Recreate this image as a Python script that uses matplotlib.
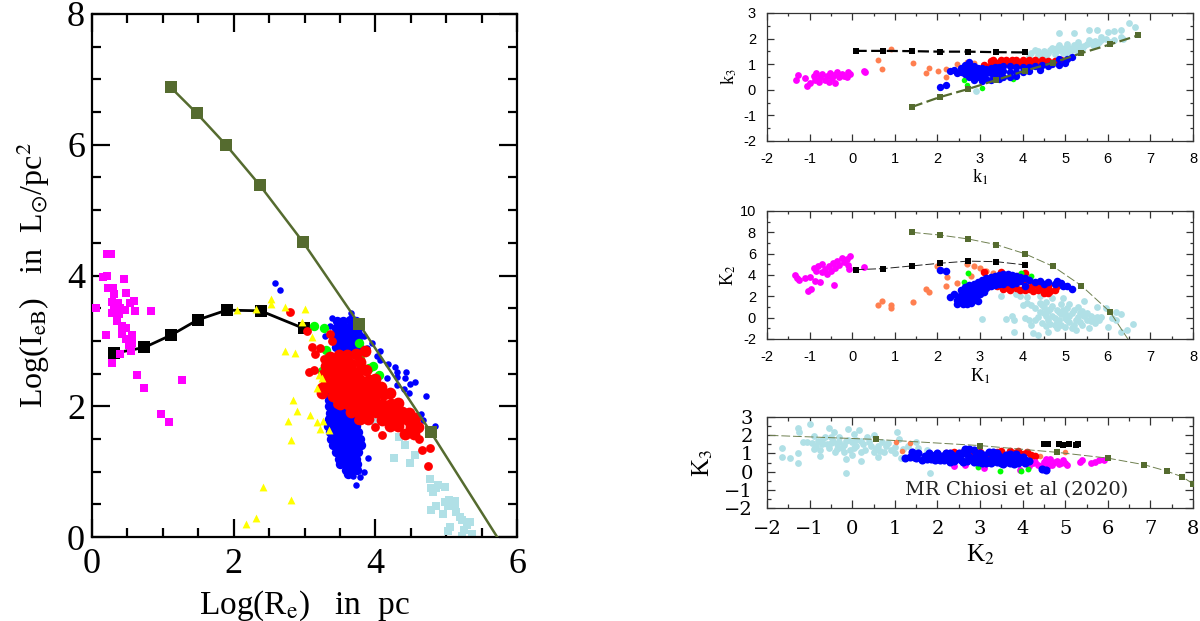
import matplotlib
matplotlib.use("Agg")
import matplotlib.pyplot as plt
from matplotlib.ticker import MultipleLocator, FuncFormatter

plt.rcParams['font.family'] = ['Liberation Serif', 'DejaVu Serif']
plt.rcParams['mathtext.fontset'] = 'stix'
plt.rcParams['axes.unicode_minus'] = False

# ---------- main panel: Log(Re), Log(IeB) ----------
main_black_x = [0.31, 0.74, 1.12, 1.49, 1.90, 2.38, 2.99]
main_black_y = [2.81, 2.90, 3.09, 3.32, 3.47, 3.46, 3.19]
main_olive_x = [1.11, 1.48, 1.89, 2.37, 2.98, 3.77, 4.78]
main_olive_y = [6.88, 6.48, 6.00, 5.38, 4.51, 3.26, 1.61]
main_olive_end_x = [4.78, 5.72]
main_olive_end_y = [1.61, 0.00]
main_yellow = [(2.05,3.47),(2.32,3.49),(2.52,3.64),(2.53,3.57),(2.73,3.52),(3.01,3.49),(2.96,3.29),(3.11,3.06),
 (2.72,2.85),(2.86,2.81),(3.2,2.48),(3.25,2.43),(3.17,2.28),(2.84,2.1),(2.89,1.92),(3.08,1.87),(2.76,1.77),
 (3.17,1.76),(3.26,1.77),(3.22,1.65),(3.34,1.64),(2.81,1.48),(2.41,0.76),(2.81,0.56),(2.31,0.29),(2.18,0.2)]
main_magenta = [(0.05,3.51),(0.21,4.33),(0.27,4.33),(0.16,3.98),(0.21,3.99),(0.45,3.95),(0.22,3.81),(0.3,3.81),
 (0.48,3.73),(0.31,3.72),(0.28,3.6),(0.36,3.58),(0.59,3.61),(0.54,3.58),(0.31,3.51),(0.39,3.51),(0.47,3.47),
 (0.6,3.46),(0.83,3.46),(0.28,3.42),(0.38,3.41),(0.35,3.31),(0.42,3.23),(0.48,3.2),(0.42,3.1),(0.57,3.09),
 (0.2,3.09),(0.48,3.03),(0.57,2.96),(0.52,2.93),(0.55,2.85),(0.39,2.8),(0.28,2.66),(0.63,2.48),(1.27,2.4),
 (0.74,2.28),(0.97,1.88),(1.09,1.76)]
main_lightblue = [(4.33,1.53),(4.42,1.41),(4.26,1.21),(4.56,1.25),(4.49,1.13),(4.77,0.88),(4.78,0.75),(4.85,0.75),
 (4.88,0.79),(4.99,0.77),(4.82,0.69),(4.78,0.42),(4.86,0.47),(4.99,0.53),(5.04,0.57),(5.12,0.55),(5.02,0.48),
 (5.12,0.47),(4.96,0.35),(5.14,0.38),(5.2,0.3),(5.22,0.26),(5.33,0.23),(5.29,0.18),(5.05,0.16),(5.03,0.09),
 (5.25,0.11),(5.36,0.04),(5.22,0.01),(4.0,1.78)]
main_blue_sparse = [(2.59,3.89),(2.66,3.78),(3.66,3.43),(3.39,3.35),(3.36,3.23),(3.29,3.08),
 (3.84,3.08),(3.95,2.97),(3.88,2.89),(4.06,2.85),(4.02,2.77),(4.07,2.7),(4.18,2.65),(4.28,2.6),(4.31,2.53),
 (4.43,2.53),(4.16,2.43),(4.31,2.44),(4.42,2.43),(4.56,2.37),(4.49,2.34),(4.31,2.33),(4.4,2.26),(4.48,2.2),
 (4.71,2.15),(4.64,1.88),(4.67,1.79),(4.84,1.7),(3.89,1.21),(3.84,0.99),(3.78,0.92),(3.68,0.94),(3.73,0.79)]
main_blue_core = [(3.46,3.3),(3.55,3.3),(3.64,3.32),(3.72,3.3),(3.44,3.2),(3.52,3.2),(3.6,3.2),(3.68,3.22),(3.76,3.2),
 (3.43,3.1),(3.51,3.1),(3.59,3.1),(3.67,3.1),(3.75,3.1),(3.43,3.0),(3.51,3.0),(3.59,3.0),(3.67,3.0),(3.75,3.0),
 (3.45,2.9),(3.53,2.9),(3.61,2.9),(3.69,2.9),(3.77,2.9),(3.5,2.8),(3.6,2.8),(3.7,2.8),
 (3.35,2.2),(3.43,2.2),(3.35,2.1),(3.43,2.1),(3.51,2.1),(3.6,2.1),
 (3.34,2.0),(3.42,2.0),(3.5,2.0),(3.58,2.0),(3.66,2.0),(3.36,1.9),(3.44,1.9),(3.52,1.9),(3.6,1.9),(3.68,1.9),
 (3.34,1.8),(3.42,1.8),(3.5,1.8),(3.58,1.8),(3.66,1.8),(3.74,1.8),(3.33,1.7),(3.41,1.7),(3.49,1.7),(3.57,1.7),
 (3.65,1.7),(3.73,1.7),(3.36,1.6),(3.44,1.6),(3.52,1.6),(3.6,1.6),(3.68,1.6),(3.76,1.6),(3.38,1.5),(3.46,1.5),
 (3.54,1.5),(3.62,1.5),(3.7,1.5),(3.78,1.5),(3.4,1.4),(3.48,1.4),(3.56,1.4),(3.64,1.4),(3.72,1.4),(3.8,1.4),
 (3.44,1.3),(3.52,1.3),(3.6,1.3),(3.68,1.3),(3.76,1.3),(3.48,1.2),(3.56,1.2),(3.64,1.2),(3.72,1.2),
 (3.5,1.12),(3.58,1.12),(3.66,1.12),(3.74,1.12),(3.58,1.02),(3.66,1.02),(3.74,1.02),(3.62,0.96)]
main_green = [(3.13,3.22),(3.27,3.19),(3.77,2.97),(3.31,2.86),(3.79,2.72),(3.91,2.58),(3.96,2.61),(4.05,2.48),
 (3.25,2.54),(3.65,1.94),(3.45,2.72),(3.46,2.1)]
main_red_sparse = [(2.8,3.44),(3.04,3.15),(3.36,3.1),(3.39,3.0),(3.11,2.91),(3.22,2.89),(3.15,2.8),(3.27,2.72),
 (3.06,2.52),(3.13,2.56),(4.09,1.56),(4.0,1.69),(4.61,1.5),(4.66,1.33),(4.77,1.36),(4.75,1.08),(3.46,2.03),(3.76,1.79)]
main_red_core = [(3.36,2.75),(3.48,2.78),(3.6,2.78),(3.72,2.8),(3.85,2.85),(3.3,2.62),(3.42,2.65),(3.54,2.65),(3.66,2.65),(3.78,2.68),
 (3.27,2.5),(3.39,2.52),(3.51,2.52),(3.63,2.52),(3.75,2.52),(3.87,2.55),(3.31,2.38),(3.43,2.4),(3.55,2.4),(3.67,2.4),
 (3.79,2.4),(3.91,2.4),(4.0,2.42),(3.25,2.28),(3.37,2.28),(3.49,2.28),(3.61,2.28),(3.73,2.28),(3.85,2.28),(3.97,2.28),
 (4.08,2.3),(3.25,2.2),(3.4,2.15),(3.52,2.15),(3.64,2.15),(3.76,2.15),(3.88,2.15),(4.0,2.15),(4.12,2.18),(4.2,2.2),
 (3.5,2.03),(3.62,2.03),(3.74,2.03),(3.86,2.03),(3.98,2.03),(4.1,2.03),(4.22,2.03),(4.32,2.05),(3.65,1.91),(3.77,1.91),
 (3.89,1.91),(4.01,1.91),(4.13,1.91),(4.25,1.91),(4.37,1.91),(4.47,1.9),(3.78,1.8),(3.9,1.8),(4.1,1.79),(4.22,1.79),
 (4.34,1.79),(4.46,1.79),(4.56,1.82),(4.2,1.7),(4.32,1.7),(4.5,1.68),(4.6,1.68),(4.42,1.58),(4.54,1.58)]

# ---------- shared model tracks of the three small panels ----------
k1_black = [0.08, 0.73, 1.40, 2.05, 2.72, 3.38, 4.05]
k2_black = [4.50, 4.60, 4.85, 5.10, 5.30, 5.25, 4.95]
k3_black = [1.52, 1.52, 1.51, 1.49, 1.49, 1.47, 1.46]
k1_olive = [1.40, 2.05, 2.72, 3.38, 4.05, 4.72, 5.38, 6.05, 6.72]
k2_olive = [8.00, 7.75, 7.38, 6.85, 6.00, 4.80, 3.00, 0.55, -3.50]
k3_olive = [-0.67, -0.29, 0.03, 0.38, 0.74, 1.06, 1.43, 1.77, 2.13]

# ---------- panel 1: k1, k3 ----------
p1_magenta = [(-1.33,0.37),(-1.27,0.57),(-1.1,0.47),(-1.05,0.15),(-1.0,0.27),(-0.9,0.55),(-0.88,0.4),(-0.85,0.65),
 (-0.78,0.32),(-0.75,0.5),(-0.7,0.6),(-0.65,0.4),(-0.6,0.55),(-0.55,0.3),(-0.52,0.65),(-0.47,0.45),(-0.42,0.58),
 (-0.4,0.25),(-0.35,0.7),(-0.3,0.5),(-0.25,0.62),(-0.2,0.55),(-0.12,0.5),(-0.1,0.7),(-0.05,0.63),(0.27,0.73),(0.3,0.7)]
p1_orange = [(0.92,1.6),(0.6,1.15),(0.71,0.83),(1.43,1.06),(1.8,0.85),(1.74,0.66),(2.01,0.73),(2.2,0.83),(2.2,0.5),
 (2.45,1.02),(2.7,1.1),(2.85,1.05)]
p1_lightblue = [(2.9,-0.05),(4.15,1.3),(4.3,1.55),(4.35,1.35),(4.45,1.35),(4.5,1.5),(4.6,1.45),(4.7,1.65),(4.75,1.4),
 (4.85,1.55),(4.85,1.75),(4.95,1.45),(5.0,1.65),(5.05,1.8),(5.15,1.55),(5.25,1.7),(5.3,1.85),(5.4,1.6),(5.5,1.8),
 (5.55,1.95),(5.65,1.75),(5.7,1.9),(5.8,1.85),(5.85,2.05),(5.95,2.0),(6.05,1.85),(4.85,2.2),(5.2,2.2),(5.55,2.33),
 (5.75,2.33),(6.0,2.25),(6.15,2.28),(6.3,2.35),(6.5,2.6),(6.65,2.45),(6.3,2.05),(6.35,1.98),(6.15,1.95),(4.4,1.25),
 (4.55,1.3),(4.65,1.55),(4.75,1.55),(4.9,1.65),(5.05,1.45),(5.1,1.65),(5.2,1.75),(5.35,1.7),(5.45,1.7),(5.6,1.85),
 (5.75,1.8),(4.2,1.45),(4.35,1.5),(4.5,1.4),(4.8,1.65),(5.25,1.55),(5.85,1.95)]
p1_red = [(3.1,0.95),(3.25,1.12),(3.25,0.95),(3.4,1.05),(3.5,1.15),(3.5,0.95),(3.65,1.05),(3.75,1.15),(3.75,0.95),
 (3.9,1.05),(4.0,1.17),(4.0,0.95),(4.15,1.08),(4.3,1.15),(4.3,1.0),(4.45,1.08),(4.6,1.12),(4.75,1.12),(4.9,1.15),
 (3.3,1.18),(3.6,1.15),(3.85,1.15),(4.15,1.15),(4.45,1.15)]
p1_green = [(2.62,0.38),(2.7,0.2),(3.05,0.08),(3.77,0.42)]
p1_blue = [(2.05,0.1),(2.2,0.17),(2.3,0.72),(2.4,0.78),(2.45,0.65),(2.55,0.85),(2.55,0.68),(2.65,0.97),(2.65,0.8),(2.65,0.6),
 (2.75,1.08),(2.75,0.88),(2.75,0.68),(2.75,0.5),(2.85,0.92),(2.85,0.75),(2.85,0.55),(2.85,0.4),(2.95,0.85),(2.95,0.68),
 (2.95,0.5),(3.05,0.85),(3.05,0.68),(3.05,0.5),(3.05,0.36),(3.15,0.82),(3.15,0.65),(3.15,0.42),(3.25,0.85),(3.25,0.65),(3.25,0.4),
 (3.35,0.88),(3.35,0.7),(3.35,0.5),(3.45,0.9),(3.45,0.7),(3.45,0.42),(3.55,0.92),(3.55,0.72),(3.55,0.5),(3.7,0.92),(3.7,0.7),
 (3.7,0.5),(3.85,0.88),(3.85,0.7),(3.85,0.55),(4.0,0.9),(4.0,0.7),(4.15,0.88),(4.15,0.72),(4.3,0.92),(4.4,0.78),(4.45,0.98),
 (4.6,0.92),(4.7,1.02),(4.85,0.98),(4.85,1.2),(5.0,1.05),(5.05,1.2),(5.15,1.28)]

# ---------- panel 2: K1, K2 ----------
p2_magenta = [(-1.35,4.0),(-1.3,3.7),(-1.25,3.5),(-1.1,3.7),(-1.0,3.85),(-1.03,2.5),(-0.97,2.7),(-0.9,4.7),(-0.88,3.4),
 (-0.85,4.4),(-0.8,4.8),(-0.75,3.3),(-0.72,4.3),(-0.7,5.0),(-0.65,4.6),(-0.6,4.1),(-0.55,4.8),(-0.5,4.4),(-0.45,5.1),
 (-0.42,3.1),(-0.4,4.7),(-0.35,5.3),(-0.3,4.9),(-0.25,5.6),(-0.2,5.2),(-0.12,5.5),(-0.1,4.9),(-0.05,5.8),(0.27,4.75),(-0.08,4.6)]
p2_orange = [(0.6,1.15),(0.71,1.55),(0.92,1.2),(0.92,0.95),(1.43,1.45),(1.74,2.65),(1.8,2.4),(2.2,2.95),(2.22,3.8),
 (2.45,3.25),(2.0,4.8),(2.7,5.0),(2.85,4.85),(3.0,4.65),(3.15,4.4),(2.8,3.9),(3.3,4.2)]
p2_lightblue = [(3.05,-0.15),(3.1,2.4),(3.5,2.0),(3.6,-0.1),(3.75,0.15),(3.8,-0.2),(3.8,-1.3),(3.85,2.2),(3.95,2.05),
 (4.0,1.2),(4.05,0.0),(4.1,1.4),(4.1,1.9),(4.15,-0.2),(4.2,1.2),(4.2,-0.7),(4.25,-1.45),(4.3,-0.2),(4.35,-1.6),(4.4,2.0),
 (4.4,1.4),(4.4,0.5),(4.45,-0.5),(4.5,1.0),(4.55,0.2),(4.55,1.5),(4.6,-0.2),(4.6,-1.3),(4.65,0.8),(4.7,1.8),(4.7,0.2),
 (4.75,-0.7),(4.8,-1.0),(4.8,0.7),(4.85,-0.2),(4.9,1.3),(4.9,0.3),(4.95,1.8),(5.0,0.0),(5.0,-0.9),(5.05,0.9),(5.1,-0.4),
 (5.1,1.3),(5.15,0.4),(5.2,-0.7),(5.25,-1.2),(5.3,0.1),(5.3,1.0),(5.35,-0.4),(5.4,0.6),(5.45,1.55),(5.5,-0.2),(5.55,-1.0),
 (5.6,0.2),(5.7,-0.5),(5.75,0.1),(5.8,-0.2),(5.75,1.0),(5.95,0.95),(6.0,-0.9),(6.1,0.0),(6.2,0.55),(6.3,-1.3),(6.3,0.35),
 (6.45,-1.15),(6.6,-0.55),(6.2,-0.2),
 (4.3,0.9),(4.35,0.1),(4.5,0.4),(4.6,0.6),(4.65,-0.6),(4.7,1.1),(4.75,0.0),(4.8,-0.4),(4.85,0.5),(4.9,-0.7),(4.95,0.7),
 (5.0,0.4),(5.05,-0.2),(5.1,0.2),(5.15,-1.0),(5.2,0.7),(5.25,-0.2),(5.35,0.4),(5.4,-0.7),(5.45,0.2),(5.5,0.4),(5.6,-0.3),
 (5.65,0.0),(5.85,0.1),(4.45,1.2),(4.55,-0.8)]
p2_red = [(3.1,4.25),(3.3,3.7),(3.5,4.25),(3.6,3.5),(3.65,2.8),(3.8,3.0),(3.9,3.9),(3.95,2.6),(4.0,3.4),(4.05,4.2),(4.1,2.9),
 (4.25,3.2),(4.25,2.5),(4.35,3.0),(4.45,2.7),(4.5,2.3),(4.6,3.0),(4.65,2.5),(4.75,2.6),(4.8,3.0),(3.2,3.0),
 (3.7,2.6),(3.85,2.75),(4.05,2.55),(4.15,2.7),(4.35,2.6),(4.5,2.85),(4.6,2.3),(4.4,3.2),(3.4,2.95),(3.55,2.7)]
p2_green = [(2.62,3.35),(2.72,4.15),(3.97,4.15),(4.2,3.9)]
p2_blue = [(2.05,4.5),(2.2,4.4),(2.3,1.9),(2.4,2.2),(2.45,1.7),(2.45,1.3),(2.55,2.6),(2.55,2.1),(2.55,1.6),(2.65,2.9),(2.65,2.35),
 (2.65,1.85),(2.65,1.45),(2.75,3.05),(2.75,2.55),(2.75,2.05),(2.75,1.55),(2.85,3.2),(2.85,2.7),(2.85,2.2),(2.85,1.7),(2.95,3.35),
 (2.95,2.85),(2.95,2.35),(3.05,3.55),(3.05,3.05),(3.05,2.6),(3.15,3.7),(3.15,3.2),(3.15,2.8),(3.25,3.85),(3.25,3.4),(3.25,2.95),
 (3.35,3.95),(3.35,3.5),(3.35,3.1),(3.45,4.0),(3.45,3.55),(3.45,3.15),(3.55,4.05),(3.55,3.6),(3.55,3.2),(3.65,4.05),(3.65,3.6),
 (3.75,4.0),(3.75,3.55),(3.85,3.9),(3.85,3.5),(3.95,3.85),(3.95,3.45),(4.05,3.7),(4.05,3.0),(4.15,3.5),(4.3,3.3),(4.4,3.4),
 (4.5,3.2),(4.6,3.35),(4.75,3.2),(4.8,3.45),(4.95,3.0),(5.05,3.0),(5.15,2.7),(4.9,3.25),
 (2.6,1.3),(2.8,1.4),(2.9,1.9),(3.0,2.2),(3.1,2.45),(2.7,1.3),(2.5,1.95),(2.95,1.6),(3.75,3.2),(3.65,3.3),(3.85,3.25)]

# ---------- panel 3: K2, K3 ----------
p3_lightblue = [(-1.65,1.3),(-1.65,0.8),(-1.45,0.75),(-1.28,0.5),(-1.28,1.0),(-1.27,2.37),(-1.25,2.2),(-1.15,1.6),(-1.05,1.6),(-0.98,2.6),
 (-0.9,1.95),(-0.85,1.4),(-0.8,1.7),(-0.75,1.2),(-0.75,0.85),(-0.65,1.9),(-0.6,1.5),(-0.55,1.3),(-0.55,2.4),(-0.45,1.7),(-0.42,2.2),
 (-0.4,1.1),(-0.35,1.5),(-0.3,1.9),(-0.25,1.3),(-0.15,1.7),(-0.15,0.7),(-0.15,-0.05),(-0.1,2.35),(-0.05,1.2),(0.0,1.6),(0.0,0.9),
 (0.05,2.05),(0.1,1.4),(0.15,2.3),(0.2,1.7),(0.2,0.6),(0.3,1.2),(0.35,1.9),(0.45,1.4),(0.5,1.1),(0.5,2.0),(0.6,0.8),(0.6,1.4),
 (0.7,1.6),(0.75,1.1),(0.8,1.4),(0.9,1.2),(1.0,1.0),(1.05,2.2),(1.1,1.8),(1.15,0.75),(1.3,1.4),(1.5,1.6),(1.55,1.3),(1.75,1.2),(1.82,-0.1),
 (-0.95,1.55),(-0.9,1.25),(-0.7,1.5),(-0.7,1.75),(-0.5,1.55),(-0.5,1.9),(-0.35,1.25),(-0.3,1.65),(-0.2,1.05),(-0.2,1.45),(-0.1,1.75),
 (0.05,1.3),(0.1,1.75),(0.2,1.1),(0.25,1.5),(0.4,1.65),(0.55,1.25),(0.65,1.15),(0.85,1.55),(1.0,1.35),(1.2,1.25)]
p3_orange = [(1.03,1.6),(1.16,1.15),(1.35,1.55),(2.6,1.1),(2.9,1.05),(5.0,1.05),(4.4,0.85)]
p3_red = [(2.4,1.05),(2.6,1.1),(2.8,1.0),(3.0,1.1),(3.2,1.0),(3.4,1.1),(3.5,1.15),(3.6,0.9),(3.7,1.15),(3.8,1.0),(3.9,1.15),(4.0,0.95),
 (4.1,1.1),(4.2,0.9),(4.3,0.85),(3.3,0.85),(2.2,1.0)]
p3_magenta = [(2.4,0.3),(2.65,0.38),(3.1,0.2),(3.95,0.1),(4.15,0.3),(4.25,0.45),(4.3,0.55),(4.45,0.3),(4.5,0.55),(4.6,0.45),(4.65,0.7),
 (4.7,0.35),(4.8,0.6),(4.85,0.4),(4.95,0.65),(5.0,0.5),(5.05,0.35),(5.35,0.55),(5.4,0.62),(5.6,0.45),(5.7,0.55),(5.8,0.62),(5.9,0.65),
 (4.35,0.35),(4.55,0.7),(4.75,0.55),(4.9,0.5),(4.6,0.3)]
p3_green = [(3.48,0.05),(3.97,0.05),(4.12,0.15),(2.95,0.25)]
p3_blue = [(1.25,0.75),(1.4,1.05),(1.45,0.8),(1.55,1.0),(1.65,0.65),(1.7,0.85),(1.8,1.0),(1.85,0.7),(1.95,0.9),(2.05,0.65),(2.1,0.85),
 (2.2,1.0),(2.25,0.7),(2.35,0.9),(2.4,0.6),(2.5,0.75),(2.6,1.0),(2.6,0.55),(2.65,1.25),(2.75,1.25),(2.75,0.8),(2.85,1.2),(2.85,0.55),
 (2.9,0.95),(3.0,0.7),(3.05,0.5),(3.1,0.9),(3.2,1.05),(3.2,0.65),(3.25,0.45),(3.3,0.85),(3.4,0.55),(3.4,1.0),(3.5,0.75),(3.55,0.4),
 (3.6,0.9),(3.65,0.55),(3.75,0.75),(3.8,0.4),(3.85,0.95),(3.95,0.6),(4.0,0.8),(4.05,0.45),(4.15,0.6),(4.45,0.12),(4.55,0.08),
 (1.35,0.8),(1.5,0.75),(1.75,0.7),(1.95,0.65),(2.0,1.0),(2.15,0.65),(2.3,1.0),(2.3,0.55),(2.5,1.0),(2.45,0.85),(2.7,0.6),(2.7,0.95),
 (2.95,0.55),(2.95,0.8),(3.1,0.65),(3.15,0.45),(3.3,0.6),(3.3,1.05),(3.45,0.85),(3.5,0.5),(3.6,0.7),(3.7,0.45),(3.7,0.95),(3.9,0.8),
 (3.9,0.45),(4.05,0.65),(3.0,1.0),(2.85,0.7),(2.55,0.65),(2.2,0.85)]

TEXT = 'MR Chiosi et al (2020)'
OLIVE = '#556b2f'
OLIVE_THIN = '#6f8050'
LB = '#b0e0e6'
ORANGE = '#ff7f50'
W, H = 1200, 621


def scatter(ax, pairs, color, size, marker='o', z=3):
    xs = [p[0] for p in pairs]
    ys = [p[1] for p in pairs]
    ax.scatter(xs, ys, s=size, c=color, marker=marker, linewidths=0, zorder=z)


def make_axes(fig, l, r, t, b):
    return fig.add_axes([l / W, 1 - b / H, (r - l) / W, (b - t) / H])


def style(ax, xlim, ylim, xmaj, xmin, ymaj, ymin, lmaj, lmin, lw, col='black'):
    ax.set_xlim(*xlim)
    ax.set_ylim(*ylim)
    ax.xaxis.set_major_locator(MultipleLocator(xmaj))
    ax.xaxis.set_minor_locator(MultipleLocator(xmin))
    ax.yaxis.set_major_locator(MultipleLocator(ymaj))
    ax.yaxis.set_minor_locator(MultipleLocator(ymin))
    ax.tick_params(which='major', direction='in', top=True, right=True, length=lmaj, width=lw, color=col)
    ax.tick_params(which='minor', direction='in', top=True, right=True, length=lmin, width=lw, color=col)
    for s in ax.spines.values():
        s.set_linewidth(lw)
        s.set_color(col)


fig = plt.figure(figsize=(12, 6.21), dpi=100)

# main panel
ax = make_axes(fig, 92, 517, 14, 537)
style(ax, (0, 6), (0, 8), 2, 0.5, 2, 0.5, 13, 6.5, 1.6)
scatter(ax, main_lightblue, LB, 27, 's', 2)
ax.plot(main_black_x, main_black_y, color='black', lw=2, zorder=2.5)
ax.scatter(main_black_x, main_black_y, s=85, c='black', marker='s', linewidths=0, zorder=2.6)
scatter(ax, main_blue_sparse, '#0000ff', 22, 'o', 3)
scatter(ax, main_blue_core, '#0000ff', 46, 'o', 3)
scatter(ax, main_green, '#00ff00', 46, 'o', 3.1)
scatter(ax, main_red_core, '#ff0000', 72, 'o', 3.2)
scatter(ax, main_red_sparse, '#ff0000', 40, 'o', 3.2)
scatter(ax, main_magenta, '#ff00ff', 26, 's', 3.3)
scatter(ax, main_yellow, '#ffff00', 32, '^', 3.4)
ax.plot(main_olive_x, main_olive_y, color=OLIVE, lw=1.8, zorder=4)
ax.plot(main_olive_end_x, main_olive_end_y, color=OLIVE, lw=1.8, zorder=4)
ax.scatter(main_olive_x, main_olive_y, s=85, c=OLIVE, marker='s', linewidths=0, zorder=4.1)
ax.tick_params(labelsize=26, pad=5)
ax.tick_params(axis='x', pad=8)
ax.set_xlabel(r'Log(R$_{\mathrm{e}}$)   in  pc', fontsize=24, labelpad=5)
ax.set_ylabel(r'Log(I$_{\mathrm{eB}}$)   in  L$_{\odot}$/pc$^{2}$', fontsize=23, labelpad=11)

sans = ['Liberation Sans', 'DejaVu Sans']

# panel 1
ax = make_axes(fig, 767, 1193, 13, 141)
style(ax, (-2, 8), (-2, 3), 1, 0.5, 1, 0.5, 5, 2.5, 0.9, '#333333')
scatter(ax, p1_lightblue, LB, 24, 'o', 2)
scatter(ax, p1_orange, ORANGE, 18, 'o', 2.2)
scatter(ax, p1_red, '#ff0000', 30, 'o', 2.5)
scatter(ax, p1_green, '#00ff00', 16, 'o', 2.6)
scatter(ax, p1_blue, '#0000ff', 28, 'o', 3)
scatter(ax, p1_magenta, '#ff00ff', 24, 'o', 3)
ax.plot(k1_black, k3_black, color='black', lw=1.6, ls=(0, (5, 2)), zorder=4)
ax.scatter(k1_black, k3_black, s=24, c='black', marker='s', linewidths=0, zorder=4.1)
ax.plot(k1_olive, k3_olive, color=OLIVE, lw=1.6, ls=(0, (5, 2)), zorder=4)
ax.scatter(k1_olive, k3_olive, s=24, c=OLIVE, marker='s', linewidths=0, zorder=4.1)
ax.tick_params(labelsize=10.5, pad=8)
for lab in ax.get_xticklabels() + ax.get_yticklabels():
    lab.set_family(sans)
ax.tick_params(axis='y', pad=8)
ax.set_xlabel(r'k$_{1}$', fontsize=13, labelpad=1)
ax.set_ylabel(r'k$_{3}$', fontsize=13, labelpad=3)

# panel 2
ax = make_axes(fig, 767, 1193, 211, 339)
style(ax, (-2, 8), (-2, 10), 1, 0.5, 2, 1, 5, 2.5, 0.9, '#333333')
scatter(ax, p2_lightblue, LB, 24, 'o', 2)
scatter(ax, p2_orange, ORANGE, 20, 'o', 2.2)
scatter(ax, p2_red, '#ff0000', 30, 'o', 2.5)
scatter(ax, p2_green, '#00ff00', 18, 'o', 2.6)
scatter(ax, p2_blue, '#0000ff', 30, 'o', 3)
scatter(ax, p2_magenta, '#ff00ff', 24, 'o', 3)
ax.plot(k1_black, k2_black, color='#222222', lw=0.7, ls=(0, (9, 3)), zorder=4)
ax.scatter(k1_black, k2_black, s=24, c='black', marker='s', linewidths=0, zorder=4.1)
ax.plot(k1_olive, k2_olive, color=OLIVE_THIN, lw=0.7, ls=(0, (9, 3)), zorder=4)
ax.scatter(k1_olive, k2_olive, s=24, c=OLIVE, marker='s', linewidths=0, zorder=4.1)
ax.tick_params(labelsize=10.5, pad=8)
for lab in ax.get_xticklabels() + ax.get_yticklabels():
    lab.set_family(sans)
ax.tick_params(axis='y', pad=8)
ax.set_xlabel(r'K$_{1}$', fontsize=13, labelpad=2)
ax.set_ylabel(r'K$_{2}$', fontsize=13, labelpad=1)

# panel 3
ax = make_axes(fig, 767, 1193, 417, 508)
style(ax, (-2, 8), (-2, 3), 1, 0.5, 1, 0.5, 5.5, 2.7, 0.9, '#333333')
scatter(ax, p3_lightblue, LB, 24, 'o', 2)
scatter(ax, p3_orange, ORANGE, 16, 'o', 2.2)
scatter(ax, p3_red, '#ff0000', 30, 'o', 2.5)
scatter(ax, p3_magenta, '#ff00ff', 24, 'o', 2.6)
scatter(ax, p3_green, '#00ff00', 18, 'o', 2.6)
scatter(ax, p3_blue, '#0000ff', 34, 'o', 3)
ax.plot(k2_olive, k3_olive, color=OLIVE_THIN, lw=0.7, ls=(0, (9, 3)), zorder=4)
ax.scatter(k2_olive, k3_olive, s=24, c=OLIVE, marker='s', linewidths=0, zorder=4.1)
ax.scatter(k2_black, k3_black, s=24, c='black', marker='s', linewidths=0, zorder=4.1)
ax.text(3.85, -1.0, TEXT, ha='center', va='center', fontsize=14, color='#222222',
        family=['DejaVu Serif'], zorder=5)
minus_fmt = FuncFormatter(lambda v, _: f'{v:.0f}'.replace('-', '\u2212'))
ax.xaxis.set_major_formatter(minus_fmt)
ax.yaxis.set_major_formatter(minus_fmt)
ax.tick_params(labelsize=14, pad=9)
for lab in ax.get_xticklabels() + ax.get_yticklabels():
    lab.set_family(['DejaVu Serif'])
ax.tick_params(axis='y', pad=10)
ax.set_xlabel(r'K$_{2}$', fontsize=18, labelpad=3)
ax.set_ylabel(r'K$_{3}$', fontsize=18, labelpad=7)

fig.savefig('out.png', dpi=100)
